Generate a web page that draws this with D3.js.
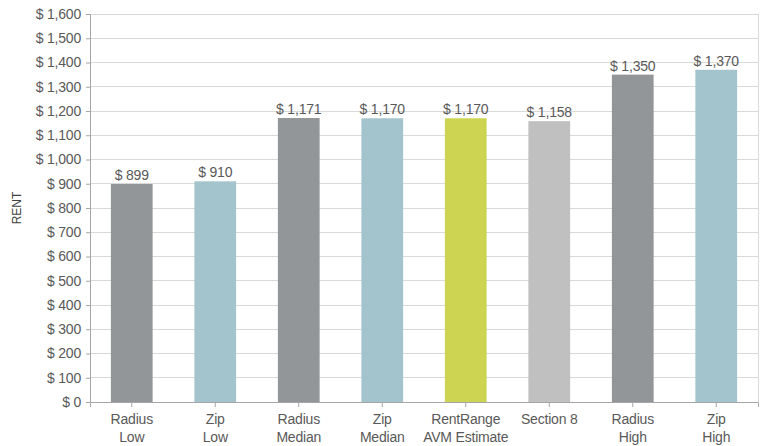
<!DOCTYPE html>
<html><head><meta charset="utf-8">
<script src="https://cdn.jsdelivr.net/npm/d3@7"></script>
<style>body{margin:0;background:#fff;}svg{display:block;font-family:"Liberation Sans",Arial,sans-serif;}</style>
</head><body>
<svg id="c" width="762" height="446"></svg>
<script>
const categories = [["Radius","Low"],["Zip","Low"],["Radius","Median"],["Zip","Median"],["RentRange","AVM Estimate"],["Section 8"],["Radius","High"],["Zip","High"]];
const values = [899, 910, 1171, 1170, 1170, 1158, 1350, 1370];
const colors = ["#939698","#a3c4cc","#939698","#a3c4cc","#cdd452","#c0c0c0","#939698","#a3c4cc"];
const yTicks = [0,100,200,300,400,500,600,700,800,900,1000,1100,1200,1300,1400,1500,1600];
const yTitle = "RENT";

const svg = d3.select("#c");
const m = {l:90, r:4, t:14, b:44};
const W = 762, H = 446;
const x = d3.scaleBand().domain(d3.range(categories.length)).range([m.l, W-m.r]).paddingInner(0.5).paddingOuter(0.25);
const y = d3.scaleLinear().domain([0,1600]).range([H-m.b, m.t]);
const fmt = v => "$ " + d3.format(",")(v);

svg.append("g").selectAll("line").data(yTicks).join("line")
  .attr("x1", m.l).attr("x2", W-m.r).attr("y1", d=>y(d)).attr("y2", d=>y(d))
  .attr("stroke", "#d9d9d9").attr("stroke-width",1).attr("shape-rendering","crispEdges");
svg.append("line").attr("x1", W-m.r).attr("x2", W-m.r).attr("y1", y(1600)).attr("y2", y(0))
  .attr("stroke","#d9d9d9").attr("shape-rendering","crispEdges");

svg.append("g").selectAll("rect").data(values).join("rect")
  .attr("x", (d,i)=>x(i)).attr("width", x.bandwidth())
  .attr("y", d=>y(d)).attr("height", d=>y(0)-y(d))
  .attr("fill", (d,i)=>colors[i]);

const ya = svg.append("g").attr("transform",`translate(${m.l},0)`)
  .call(d3.axisLeft(y).tickValues(yTicks).tickFormat(fmt).tickSize(4).tickPadding(5));
ya.select(".domain").attr("stroke","#a6a6a6");
ya.selectAll(".tick line").attr("stroke","#a6a6a6");
ya.selectAll("text").attr("fill","#595959").attr("font-size","14px").attr("font-family","Liberation Sans, Arial, sans-serif").style("letter-spacing","-0.2px");

const xa = svg.append("g").attr("transform",`translate(0,${y(0)})`)
  .call(d3.axisBottom(x).tickSize(5).tickFormat(""));
xa.select(".domain").attr("stroke","#a6a6a6");
xa.selectAll(".tick line").attr("stroke","#a6a6a6");
xa.selectAll(".tick").each(function(d){
  const t = d3.select(this).append("text").attr("fill","#595959").attr("font-size","14px")
    .attr("text-anchor","middle").attr("font-family","Liberation Sans, Arial, sans-serif").style("letter-spacing","-0.2px");
  categories[d].forEach((s,k)=>{
    t.append("tspan").attr("x",0).attr("y", 22 + k*18).text(s);
  });
});

svg.append("g").selectAll("text").data(values).join("text")
  .attr("x",(d,i)=>x(i)+x.bandwidth()/2).attr("y", d=>y(d)-4)
  .attr("text-anchor","middle").attr("fill","#595959").attr("font-size","14px").style("letter-spacing","-0.2px")
  .text(d=>fmt(d));

svg.append("text").attr("transform",`translate(21,${(y(0)+y(1600))/2}) rotate(-90)`)
  .attr("text-anchor","middle").attr("fill","#404040").attr("font-size","12px").text(yTitle);
</script>
</body></html>
